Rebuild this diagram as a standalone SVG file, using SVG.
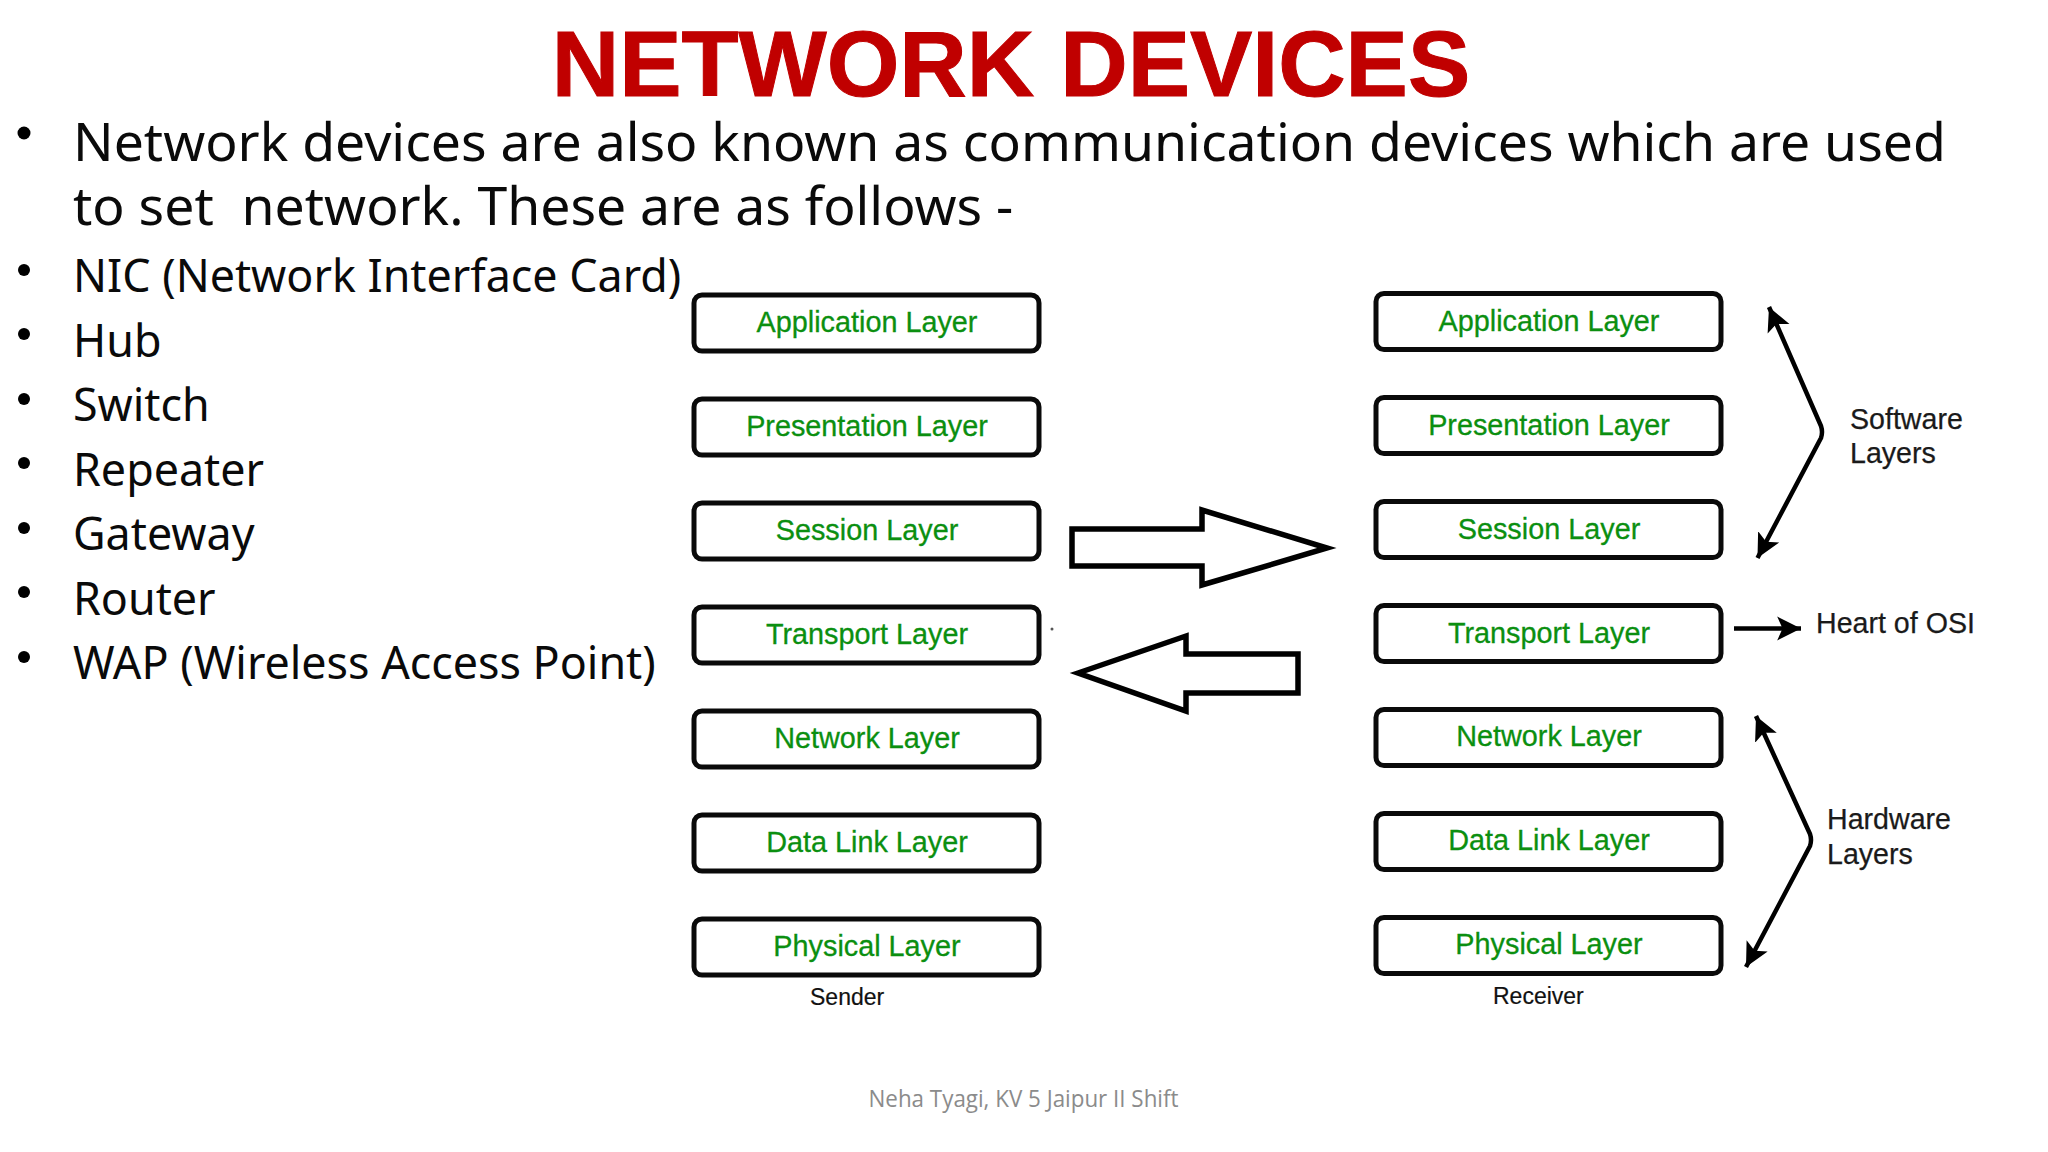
<svg xmlns="http://www.w3.org/2000/svg" width="2048" height="1152" viewBox="0 0 2048 1152">
<style>
text{font-family:"Liberation Sans",Arial,sans-serif}
.body{font-family:"Noto Sans","Open Sans",sans-serif;fill:#0a0a0a}
.b1{font-size:53.5px}
.b2{font-size:44.8px}
.box{fill:#fff;stroke:#0a0a0a;stroke-width:5}
.lay{font-size:28.8px;fill:#0b8f10;stroke:#0b8f10;stroke-width:.3;text-anchor:middle}
.lab{font-size:28.6px;fill:#1a1a1a;stroke:#1a1a1a;stroke-width:.25}
.cap{font-size:23px;fill:#111;stroke:#111;stroke-width:.2}
.big{fill:#fff;stroke:#000;stroke-width:5.5;stroke-linejoin:miter}
.con{fill:none;stroke:#000;stroke-width:4.5;stroke-linejoin:round}
</style>
<defs>
<marker id="ah" markerUnits="userSpaceOnUse" markerWidth="26" markerHeight="26" refX="22" refY="11" orient="auto-start-reverse" viewBox="0 0 24 22"><path d="M0 0L22 11L0 22L5 11Z" fill="#000"/></marker>
</defs>
<rect width="2048" height="1152" fill="#fff"/>
<text id="title" x="1011" y="96" font-size="93.4" font-weight="700" fill="#c00000" stroke="#c00000" stroke-width="1" text-anchor="middle">NETWORK DEVICES</text>
<g id="bullets" fill="#000">
<circle cx="24" cy="133" r="6.5"/><circle cx="24" cy="270" r="6"/><circle cx="24" cy="334" r="6"/><circle cx="24" cy="399" r="6"/><circle cx="24" cy="463" r="6"/><circle cx="24" cy="528" r="6"/><circle cx="24" cy="592" r="6"/><circle cx="24" cy="657" r="6"/>
</g>
<g id="text-block">
<text class="body b1" x="73" y="161">Network devices are also known as communication devices which are used</text>
<text class="body b1" x="73" y="225" xml:space="preserve">to set  network. These are as follows -</text>
<text class="body b2" x="73" y="292">NIC (Network Interface Card)</text>
<text class="body b2" x="73" y="357">Hub</text>
<text class="body b2" x="73" y="421">Switch</text>
<text class="body b2" x="73" y="486">Repeater</text>
<text class="body b2" x="73" y="550">Gateway</text>
<text class="body b2" x="73" y="615">Router</text>
<text class="body b2" x="73" y="679">WAP (Wireless Access Point)</text>
</g>
<g id="sender">
<g id="s-application"><rect class="box" x="694" y="295" width="345" height="56" rx="8"/><text class="lay" x="867" y="332">Application Layer</text></g>
<g id="s-presentation"><rect class="box" x="694" y="399" width="345" height="56" rx="8"/><text class="lay" x="867" y="436">Presentation Layer</text></g>
<g id="s-session"><rect class="box" x="694" y="503" width="345" height="56" rx="8"/><text class="lay" x="867" y="540">Session Layer</text></g>
<g id="s-transport"><rect class="box" x="694" y="607" width="345" height="56" rx="8"/><text class="lay" x="867" y="644">Transport Layer</text></g>
<g id="s-network"><rect class="box" x="694" y="711" width="345" height="56" rx="8"/><text class="lay" x="867" y="748">Network Layer</text></g>
<g id="s-datalink"><rect class="box" x="694" y="815" width="345" height="56" rx="8"/><text class="lay" x="867" y="852">Data Link Layer</text></g>
<g id="s-physical"><rect class="box" x="694" y="919" width="345" height="56" rx="8"/><text class="lay" x="867" y="956">Physical Layer</text></g>
<text class="cap" x="810" y="1005">Sender</text>
</g>
<g id="receiver">
<g id="r-application"><rect class="box" x="1376" y="293.5" width="345" height="56" rx="8"/><text class="lay" x="1549" y="331">Application Layer</text></g>
<g id="r-presentation"><rect class="box" x="1376" y="397.5" width="345" height="56" rx="8"/><text class="lay" x="1549" y="435">Presentation Layer</text></g>
<g id="r-session"><rect class="box" x="1376" y="501.5" width="345" height="56" rx="8"/><text class="lay" x="1549" y="539">Session Layer</text></g>
<g id="r-transport"><rect class="box" x="1376" y="605.5" width="345" height="56" rx="8"/><text class="lay" x="1549" y="643">Transport Layer</text></g>
<g id="r-network"><rect class="box" x="1376" y="709.5" width="345" height="56" rx="8"/><text class="lay" x="1549" y="746">Network Layer</text></g>
<g id="r-datalink"><rect class="box" x="1376" y="813.5" width="345" height="56" rx="8"/><text class="lay" x="1549" y="850">Data Link Layer</text></g>
<g id="r-physical"><rect class="box" x="1376" y="917.5" width="345" height="56" rx="8"/><text class="lay" x="1549" y="954">Physical Layer</text></g>
<text class="cap" x="1493" y="1004">Receiver</text>
</g>
<g id="connectors">
<path class="big" d="M1072 529H1202V510L1327 548L1202 585V566H1072Z"/>
<path class="big" d="M1078 673L1186 636V654H1298V693H1186V711Z"/>
<circle cx="1052" cy="629" r="1.5" fill="#555"/>
<path class="con" d="M1769 307L1821 426Q1823 432 1821 438L1757.5 558" marker-start="url(#ah)" marker-end="url(#ah)"/>
<path class="con" d="M1734 628.5H1801" marker-end="url(#ah)"/>
<path class="con" d="M1756 716L1810 834Q1812 840 1810 846L1746 967" marker-start="url(#ah)" marker-end="url(#ah)"/>
</g>
<g id="labels">
<text class="lab" x="1850" y="429">Software</text>
<text class="lab" x="1850" y="463">Layers</text>
<text class="lab" x="1816" y="633">Heart of OSI</text>
<text class="lab" x="1827" y="829">Hardware</text>
<text class="lab" x="1827" y="864">Layers</text>
</g>
<text id="footer" x="1023.5" y="1107" font-size="23" fill="#8b8b8b" text-anchor="middle" style="font-family:'Open Sans',sans-serif" textLength="310" lengthAdjust="spacingAndGlyphs">Neha Tyagi, KV 5 Jaipur II Shift</text>
</svg>
